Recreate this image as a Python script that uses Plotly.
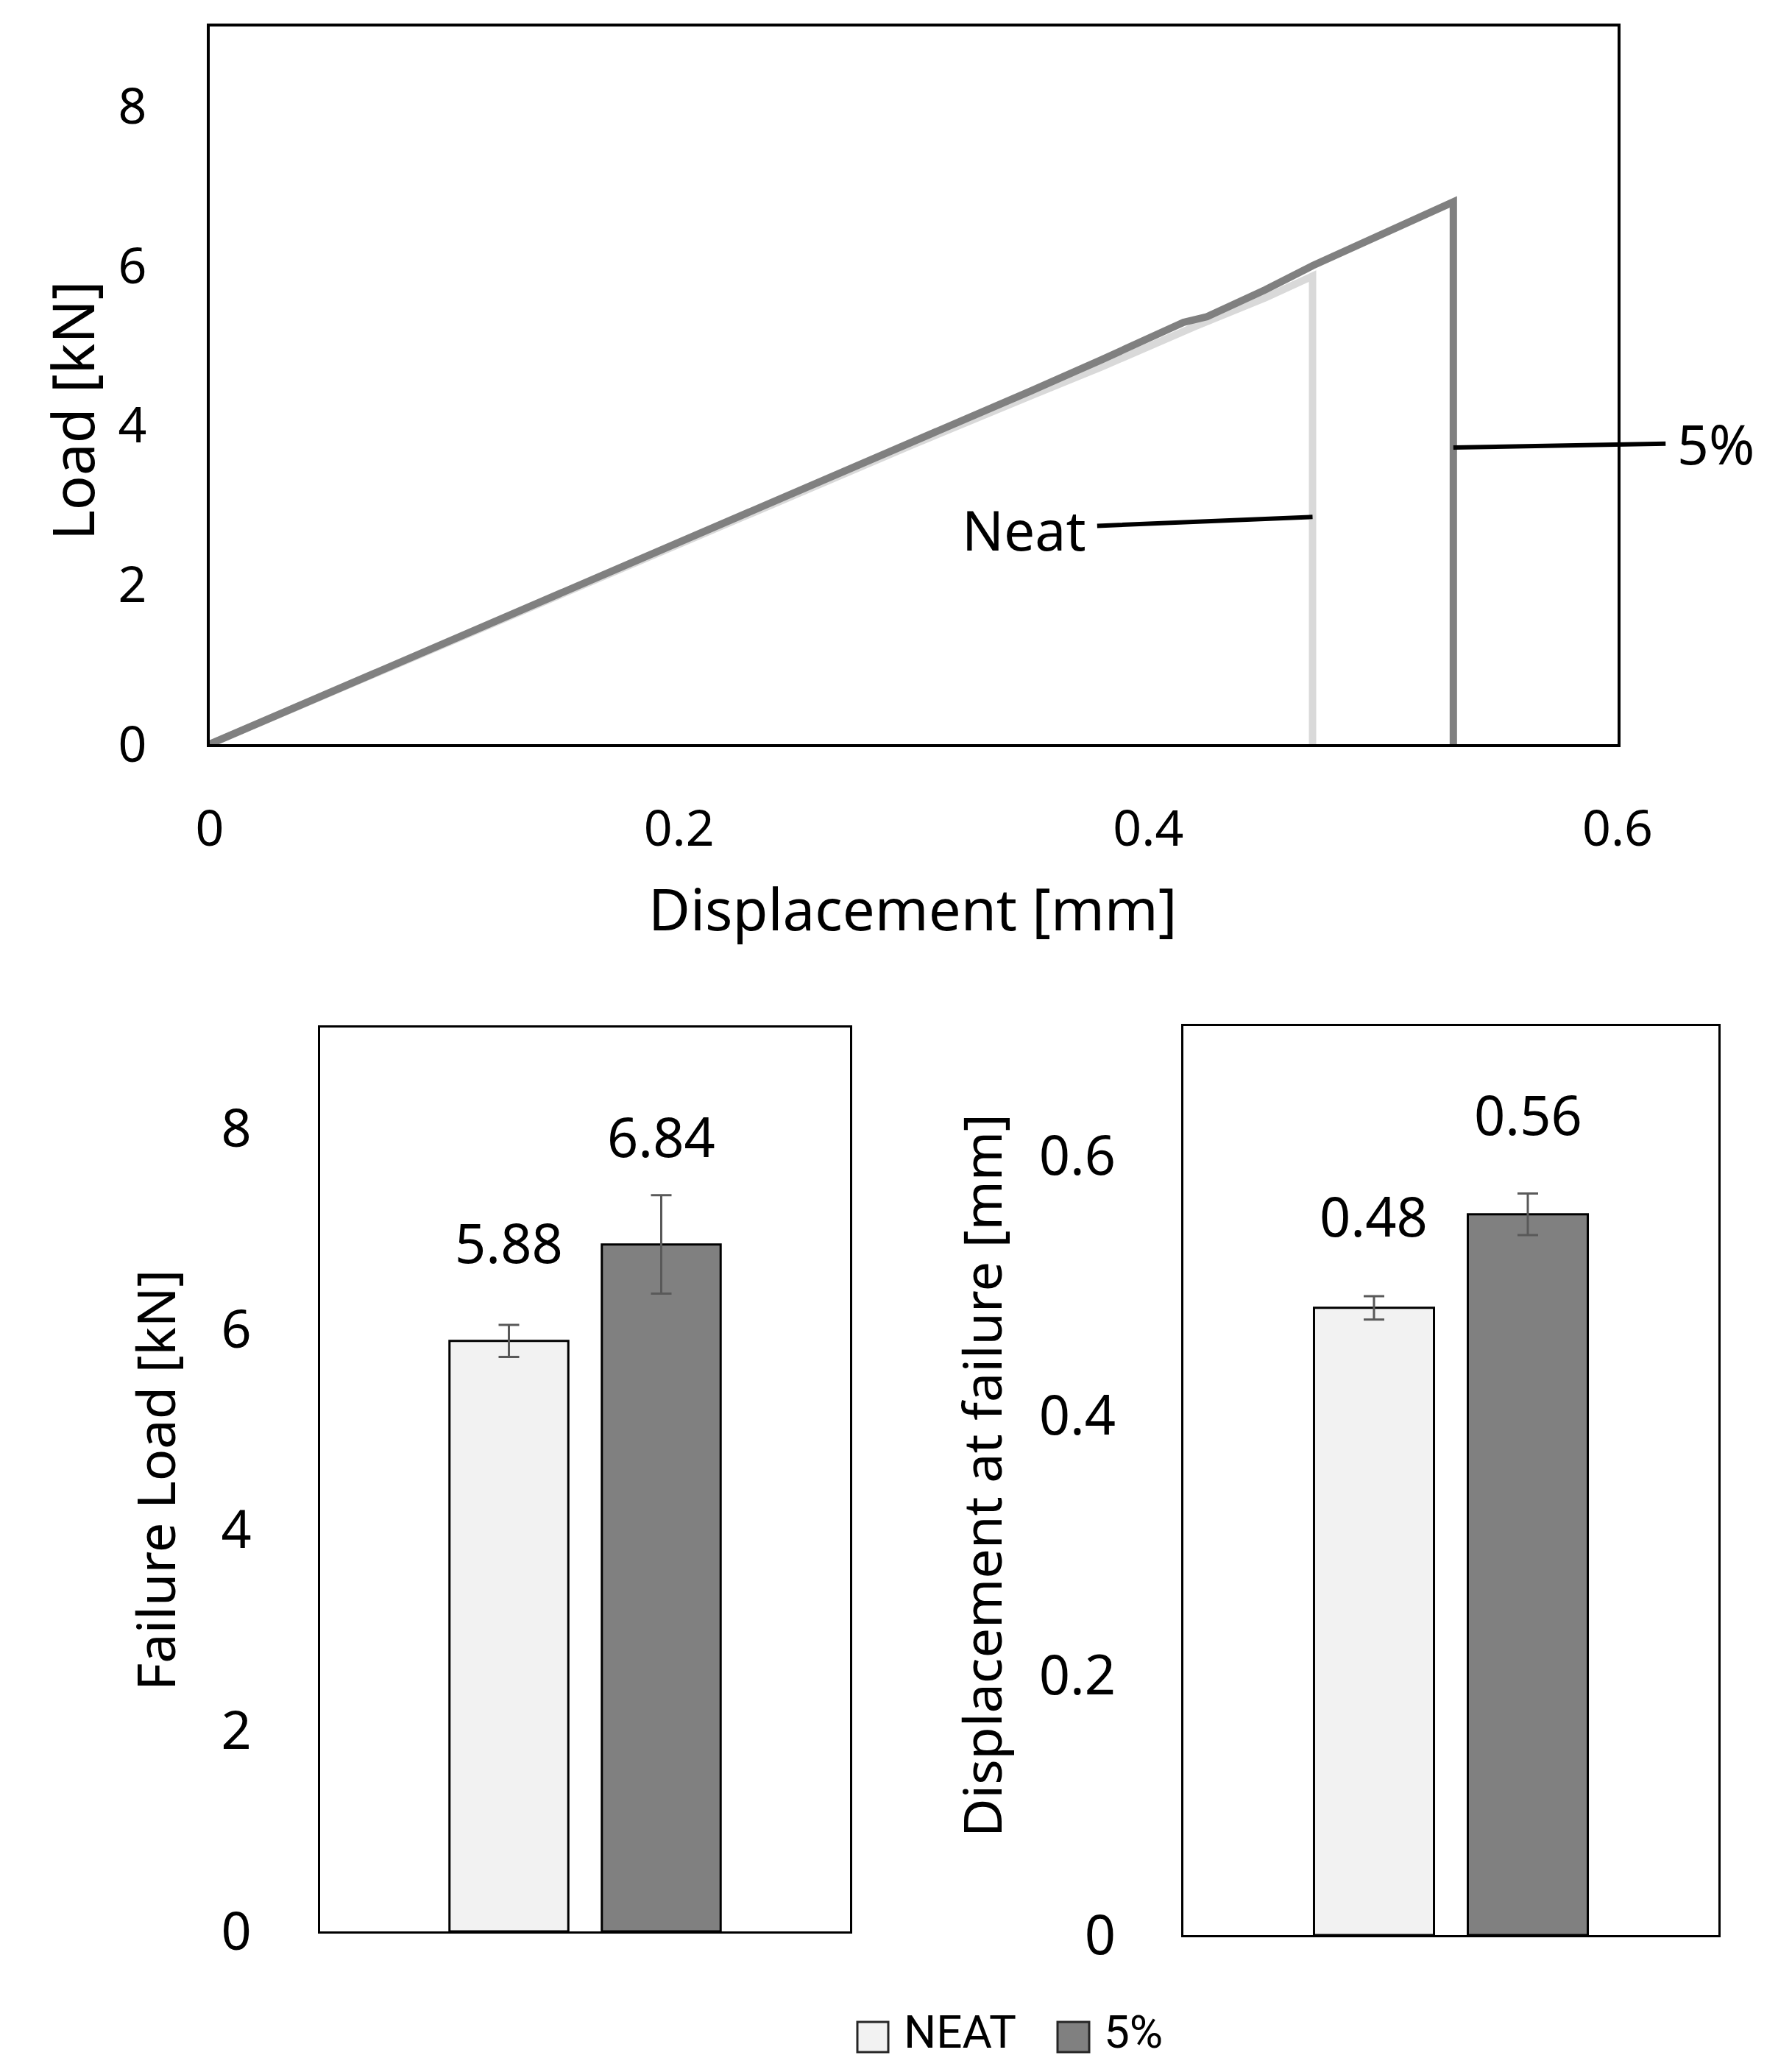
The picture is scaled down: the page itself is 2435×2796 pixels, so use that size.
import plotly.graph_objects as go

# ---------------- data ----------------
disp_neat = [0, 0.05, 0.10, 0.15, 0.20, 0.25, 0.30, 0.35, 0.38, 0.42, 0.45, 0.47, 0.47]
load_neat = [0, 0.63, 1.26, 1.89, 2.51, 3.13, 3.76, 4.37, 4.73, 5.24, 5.60, 5.87, 0]

disp_5pct = [0, 0.05, 0.10, 0.15, 0.20, 0.25, 0.30, 0.35, 0.38, 0.40, 0.415, 0.425, 0.45, 0.47, 0.49, 0.51, 0.53, 0.53]
load_5pct = [0, 0.63, 1.27, 1.90, 2.53, 3.17, 3.80, 4.43, 4.82, 5.08, 5.29, 5.36, 5.70, 6.00, 6.27, 6.53, 6.80, 0]

groups = ["NEAT", "5%"]
failure_load = [5.88, 6.84]
failure_load_err = [0.16, 0.49]
failure_load_labels = ["5.88", "6.84"]
failure_disp = [0.483, 0.555]
failure_disp_err = [0.009, 0.016]
failure_disp_labels = ["0.48", "0.56"]

x_ticks = [0, 0.2, 0.4, 0.6]
x_ticklabels = ["0", "0.2", "0.4", "0.6"]
load_ticks = [0, 2, 4, 6, 8]
disp_ticks = [0, 0.2, 0.4, 0.6]
disp_ticklabels = ["0", "0.2", "0.4", "0.6"]

# ---------------- style ----------------
W, H = 2435, 2796
PAGE_OFFSET = 8  # default body margin of the html page
FONT = "Noto Sans"
bar_colors = ["#f2f2f2", "#808080"]
line_colors = {"Neat": "#d9d9d9", "5%": "#808080"}
BARGAP = 0.425
BARGROUPGAP = 0.22


def px_x(p):
    return (p - PAGE_OFFSET) / W


def px_y(p):
    return 1 - (p - PAGE_OFFSET) / H


fig = go.Figure()

# top chart: load-displacement curves
fig.add_trace(go.Scatter(x=disp_neat, y=load_neat, mode="lines", name="Neat",
                         line=dict(color=line_colors["Neat"], width=10),
                         xaxis="x", yaxis="y"))
fig.add_trace(go.Scatter(x=disp_5pct, y=load_5pct, mode="lines", name="5%",
                         line=dict(color=line_colors["5%"], width=10),
                         xaxis="x", yaxis="y"))

# bar charts
for i, g in enumerate(groups):
    fig.add_trace(go.Bar(x=[0], y=[failure_load[i]], name=g,
                         marker=dict(color=bar_colors[i], line=dict(color="black", width=3)),
                         error_y=dict(type="data", array=[failure_load_err[i]],
                                      color="#595959", thickness=3, width=14),
                         xaxis="x2", yaxis="y2"))
    fig.add_trace(go.Bar(x=[0], y=[failure_disp[i]], name=g,
                         marker=dict(color=bar_colors[i], line=dict(color="black", width=3)),
                         error_y=dict(type="data", array=[failure_disp_err[i]],
                                      color="#595959", thickness=3, width=14),
                         xaxis="x3", yaxis="y3"))

axis_common = dict(showgrid=False, zeroline=False, showline=True, linecolor="black",
                   mirror=True, ticks="", automargin=False)

fig.update_layout(
    template="none",
    width=W, height=H, autosize=False,
    margin=dict(l=0, r=0, t=0, b=0, pad=0, autoexpand=False),
    paper_bgcolor="white", plot_bgcolor="white",
    showlegend=False,
    barmode="group", bargap=BARGAP, bargroupgap=BARGROUPGAP,
    font=dict(family=FONT, color="black"),
    xaxis=dict(domain=[px_x(285), px_x(2198)], anchor="y", range=[0, 0.6],
               tickvals=x_ticks, ticktext=x_ticklabels, linewidth=4,
               tickfont=dict(size=68), ticklabelstandoff=52, **axis_common),
    yaxis=dict(domain=[px_y(1011), px_y(36)], anchor="x", range=[0, 9],
               tickvals=load_ticks, linewidth=4,
               tickfont=dict(size=68), ticklabelstandoff=68, **axis_common),
    xaxis2=dict(domain=[px_x(435), px_x(1155)], anchor="y2", range=[-0.5, 0.5],
                showticklabels=False, linewidth=3, **axis_common),
    yaxis2=dict(domain=[px_y(2624), px_y(1396)], anchor="x2", range=[0, 9],
                tickvals=load_ticks, linewidth=3,
                tickfont=dict(size=72), ticklabelstandoff=76, **axis_common),
    xaxis3=dict(domain=[px_x(1608), px_x(2335)], anchor="y3", range=[-0.5, 0.5],
                showticklabels=False, linewidth=3, **axis_common),
    yaxis3=dict(domain=[px_y(2629), px_y(1394)], anchor="x3", range=[0, 0.7],
                tickvals=disp_ticks, ticktext=disp_ticklabels, linewidth=3,
                tickfont=dict(size=74), ticklabelstandoff=74, **axis_common),
)

annotations = []

# axis titles
annotations.append(dict(text="Load [kN]", xref="paper", yref="paper", x=px_x(98), y=px_y(558),
                        textangle=-90, showarrow=False, font=dict(size=78),
                        xanchor="center", yanchor="middle"))
annotations.append(dict(text="Displacement [mm]", xref="paper", yref="paper", x=px_x(1240), y=px_y(1234),
                        showarrow=False, font=dict(size=78), xanchor="center", yanchor="middle"))
annotations.append(dict(text="Failure Load [kN]", xref="paper", yref="paper", x=px_x(210), y=px_y(2011),
                        textangle=-90, showarrow=False, font=dict(size=72),
                        xanchor="center", yanchor="middle"))
annotations.append(dict(text="Displacement at failure [mm]", xref="paper", yref="paper",
                        x=px_x(1333), y=px_y(2005), textangle=-90, showarrow=False,
                        font=dict(size=72), xanchor="center", yanchor="middle"))

# curve labels with leader lines
annotations.append(dict(text="Neat", xref="x", yref="y", x=disp_neat[-1], y=2.85,
                        ax=0.347, ay=2.70, axref="x", ayref="y", showarrow=True,
                        arrowhead=0, arrowwidth=6, arrowcolor="black", startstandoff=14,
                        font=dict(size=75)))
annotations.append(dict(text="5%", xref="x", yref="y", x=disp_5pct[-1], y=3.72,
                        ax=0.6418, ay=3.78, axref="x", ayref="y", showarrow=True,
                        arrowhead=0, arrowwidth=6, arrowcolor="black", startstandoff=14,
                        font=dict(size=75)))

# value labels over the bars
slot = (1 - BARGAP) / 2
centers = [-slot / 2, slot / 2]
shift_load = [134, 147]
shift_disp = [125, 136]
for i in range(2):
    annotations.append(dict(text=failure_load_labels[i], xref="x2", yref="y2", x=centers[i],
                            y=failure_load[i], yshift=shift_load[i], showarrow=False,
                            font=dict(size=74), xanchor="center", yanchor="middle"))
    annotations.append(dict(text=failure_disp_labels[i], xref="x3", yref="y3", x=centers[i],
                            y=failure_disp[i], yshift=shift_disp[i], showarrow=False,
                            font=dict(size=74), xanchor="center", yanchor="middle"))

# custom legend
legend_sq_x = [(1165, 1207), (1437, 1480)]
legend_txt_x = [1226, 1498]
shapes = []
for i, g in enumerate(groups):
    x0, x1 = legend_sq_x[i]
    shapes.append(dict(type="rect", xref="paper", yref="paper",
                       x0=px_x(x0), x1=px_x(x1), y0=px_y(2788), y1=px_y(2747),
                       fillcolor=bar_colors[i], line=dict(color="#262626", width=3)))
    annotations.append(dict(text=g, xref="paper", yref="paper", x=px_x(legend_txt_x[i]),
                            y=px_y(2760), showarrow=False, font=dict(size=62, family="Roboto"),
                            xanchor="left", yanchor="middle"))

fig.update_layout(annotations=annotations, shapes=shapes)

fig.write_html("out.html")
